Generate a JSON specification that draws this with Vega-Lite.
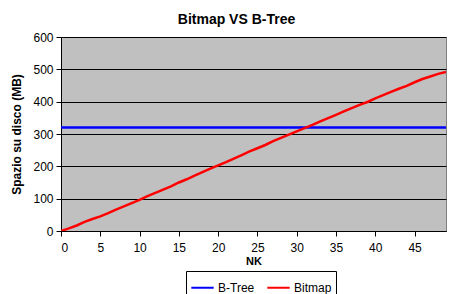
{
  "$schema": "https://vega.github.io/schema/vega-lite/v6.json",
  "width": 385,
  "height": 194,
  "autosize": {"type": "none"},
  "padding": {"left": 61, "top": 37, "right": 3, "bottom": 63},
  "background": "white",
  "title": {"text": "Bitmap VS B-Tree", "font": "Liberation Sans", "fontSize": 14, "fontWeight": "bold", "color": "black", "offset": 4, "dx": -17},
  "data": {"values": [
    {"NK":0,"s":"B-Tree","v":320},{"NK":49,"s":"B-Tree","v":320},
    {"NK":0,"s":"Bitmap","v":0},{"NK":1,"s":"Bitmap","v":8},{"NK":2,"s":"Bitmap","v":17},{"NK":3,"s":"Bitmap","v":28},{"NK":4,"s":"Bitmap","v":37},
    {"NK":5,"s":"Bitmap","v":45},{"NK":6,"s":"Bitmap","v":55},{"NK":7,"s":"Bitmap","v":66},{"NK":8,"s":"Bitmap","v":76},{"NK":9,"s":"Bitmap","v":86},
    {"NK":10,"s":"Bitmap","v":96},{"NK":11,"s":"Bitmap","v":108},{"NK":12,"s":"Bitmap","v":118},{"NK":13,"s":"Bitmap","v":128},{"NK":14,"s":"Bitmap","v":138},
    {"NK":15,"s":"Bitmap","v":150},{"NK":16,"s":"Bitmap","v":160},{"NK":17,"s":"Bitmap","v":171},{"NK":18,"s":"Bitmap","v":182},{"NK":19,"s":"Bitmap","v":193},
    {"NK":20,"s":"Bitmap","v":203},{"NK":21,"s":"Bitmap","v":213},{"NK":22,"s":"Bitmap","v":224},{"NK":23,"s":"Bitmap","v":235},{"NK":24,"s":"Bitmap","v":246},
    {"NK":25,"s":"Bitmap","v":256},{"NK":26,"s":"Bitmap","v":266},{"NK":27,"s":"Bitmap","v":278},{"NK":28,"s":"Bitmap","v":288},{"NK":29,"s":"Bitmap","v":298},
    {"NK":30,"s":"Bitmap","v":308},{"NK":31,"s":"Bitmap","v":318},{"NK":32,"s":"Bitmap","v":328},{"NK":33,"s":"Bitmap","v":339},{"NK":34,"s":"Bitmap","v":349},
    {"NK":35,"s":"Bitmap","v":359},{"NK":36,"s":"Bitmap","v":370},{"NK":37,"s":"Bitmap","v":380},{"NK":38,"s":"Bitmap","v":390},{"NK":39,"s":"Bitmap","v":399},
    {"NK":40,"s":"Bitmap","v":410},{"NK":41,"s":"Bitmap","v":420},{"NK":42,"s":"Bitmap","v":430},{"NK":43,"s":"Bitmap","v":440},{"NK":44,"s":"Bitmap","v":449},
    {"NK":45,"s":"Bitmap","v":460},{"NK":46,"s":"Bitmap","v":470},{"NK":47,"s":"Bitmap","v":478},{"NK":48,"s":"Bitmap","v":486},{"NK":49,"s":"Bitmap","v":492}
  ]},
  "mark": {"type": "line", "strokeWidth": 2.5, "clip": true},
  "encoding": {
    "x": {"field": "NK", "type": "quantitative", "scale": {"domain": [0, 49], "nice": false},
      "axis": {"title": "NK", "values": [0,5,10,15,20,25,30,35,40,45], "grid": false, "titleFontWeight": "bold", "titleFontSize": 11, "titlePadding": 2, "labelPadding": 6}},
    "y": {"field": "v", "type": "quantitative", "scale": {"domain": [0, 600], "nice": false},
      "axis": {"title": "Spazio su disco (MB)", "values": [0,100,200,300,400,500,600], "grid": true, "gridColor": "black", "gridOpacity": 1, "titleFontWeight": "bold", "titlePadding": 9, "labelPadding": 3}},
    "color": {"field": "s", "type": "nominal", "scale": {"domain": ["B-Tree", "Bitmap"], "range": ["#0000ff", "#ff0000"]},
      "legend": {"title": null, "orient": "none", "legendX": 125, "legendY": 234, "direction": "horizontal", "symbolType": "stroke", "symbolSize": 500, "symbolStrokeWidth": 2, "strokeColor": "black", "padding": 4, "columnPadding": 8, "labelFontSize": 12, "labelFont": "Liberation Sans", "labelColor": "black", "fillColor": "white", "labelOffset": 3}}
  },
  "config": {
    "font": "Liberation Sans",
    "view": {"fill": "#c0c0c0", "stroke": "#808080"},
    "axis": {"labelFont": "Liberation Sans", "titleFont": "Liberation Sans", "labelFontSize": 12, "titleFontSize": 12, "labelColor": "black", "titleColor": "black", "domainColor": "black", "tickColor": "black", "tickSize": 5, "gridWidth": 1}
  }
}
